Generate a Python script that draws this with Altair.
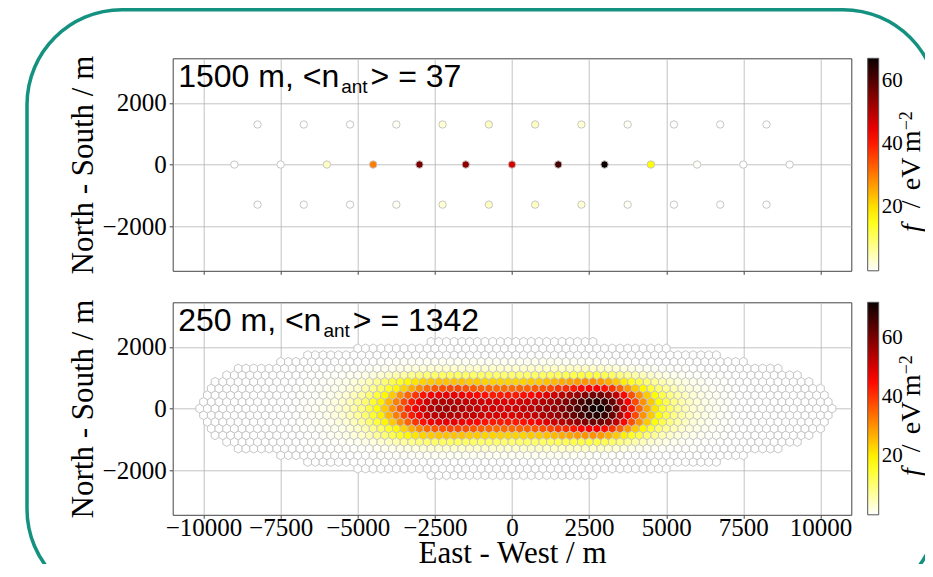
import altair as alt
import pandas as pd

# ---------------- data ----------------
# upper panel: 1500 m grid, 37 antennas
TOP_CENTER_X = [-9000, -7500, -6000, -4500, -3000, -1500, 0, 1500, 3000, 4500, 6000, 7500, 9000]
TOP_CENTER_F = [0.0, 0.0, 4.0, 30.0, 56.0, 54.0, 47.0, 61.0, 67.0, 17.0, 0.5, 0.0, 0.0]
TOP_SIDE_X = [-8250, -6750, -5250, -3750, -2250, -750, 750, 2250, 3750, 5250, 6750, 8250]
TOP_NORTH_F = [0.0, 0.0, 0.0, 0.8, 3.0, 4.0, 4.0, 3.0, 0.6, 0.0, 0.0, 0.0]
TOP_SOUTH_F = [0.0, 0.0, 0.0, 0.8, 3.0, 4.0, 4.0, 3.0, 0.6, 0.0, 0.0, 0.0]
TOP_SIDE_Y = 1299.0
TOP_FMAX = 67.0

# lower panel: 250 m hexagonal grid, rows |k| = 0..10 (row pitch 216.5 m)
HEX_PITCH = 250.0
HEX_ROW_DY = 216.5
ROW_XMIN = [-10125, -10000, -9875, -9750, -9625, -9250, -8875, -7500, -6625, -5000, -2625]
ROW_XMAX = [10375, 10250, 10125, 10000, 9625, 9250, 8625, 7500, 6625, 5000, 2625]
F_START = [-6875, -6750, -6875, -6750, -6875, -6750, -6875, -4750]
F_ROWS = [
    [0.3, 0.5, 0.8, 1.3, 2, 3, 4.5, 6.5, 9, 13, 18, 24, 30, 36, 42, 47, 51, 54, 56, 56, 55, 54, 53,
     52, 51, 51, 50, 50, 51, 52, 53, 54, 56, 57, 59, 62, 65, 68, 71, 72, 68, 61, 52, 43, 35, 28, 21,
     15, 11, 7.5, 5, 3.5, 2.5, 1.6, 1, 0.6, 0.3],
    [0.4, 0.6, 1, 1.6, 2.4, 3.6, 5.3, 7.5, 10.5, 15, 20, 26, 32, 38, 43, 47, 51, 53, 54, 54, 53, 52,
     52, 51, 50, 50, 49, 49, 50, 51, 52, 54, 55, 57, 59, 62, 65, 68, 69, 67, 62, 54, 46, 38, 30, 24,
     18, 13, 9, 6.5, 4.5, 3, 2, 1.3, 0.8, 0.4],
    [0.2, 0.3, 0.5, 0.9, 1.4, 2.2, 3.3, 5, 7, 10, 14, 19, 24, 30, 35, 40, 44, 47, 48, 48, 48, 47, 46,
     45, 44, 43, 43, 43, 43, 44, 45, 47, 49, 51, 53, 55, 57, 59, 61, 61, 58, 52, 45, 37, 30, 24, 18,
     13, 9, 6.5, 4.5, 3, 2, 1.3, 0.8, 0.5, 0.2],
    [0.2, 0.3, 0.5, 0.8, 1.2, 1.8, 2.7, 4, 5.5, 8, 11, 15, 19, 23, 27, 31, 34, 36, 37, 38, 38, 37,
     36, 35, 35, 34, 34, 34, 35, 35, 36, 37, 38, 40, 41, 43, 45, 46, 46, 44, 40, 35, 29, 24, 19, 14,
     10, 7.5, 5.5, 3.8, 2.6, 1.8, 1.2, 0.8, 0.5, 0.3],
    [0.1, 0.2, 0.3, 0.5, 0.8, 1.2, 1.8, 2.7, 3.8, 5.3, 7.5, 10, 13, 16, 19, 21, 23, 24, 25, 25, 25,
     25, 24, 24, 23, 23, 23, 23, 23, 23, 24, 24, 25, 26, 27, 28, 29, 30, 30, 29, 27, 24, 20, 16, 13,
     10, 7.5, 5.5, 4, 2.8, 2, 1.4, 1, 0.6, 0.4, 0.2, 0.1],
    [0.1, 0.1, 0.2, 0.3, 0.4, 0.6, 0.9, 1.3, 1.8, 2.5, 3.4, 4.5, 5.8, 7, 8.3, 9.3, 10.2, 10.8, 11.2,
     11.4, 11.4, 11.2, 11, 10.8, 10.6, 10.5, 10.4, 10.4, 10.5, 10.6, 10.8, 11.1, 11.5, 12, 12.5, 13,
     13.3, 13.4, 13.2, 12.5, 11.2, 9.5, 7.8, 6.2, 4.8, 3.6, 2.6, 1.9, 1.3, 0.9, 0.6, 0.4, 0.3, 0.2,
     0.1, 0.1],
    [0, 0, 0.05, 0.1, 0.1, 0.15, 0.2, 0.3, 0.4, 0.6, 0.8, 1.1, 1.4, 1.8, 2.2, 2.6, 2.9, 3.2, 3.4, 3.5,
     3.6, 3.6, 3.6, 3.6, 3.6, 3.6, 3.6, 3.6, 3.6, 3.6, 3.7, 3.8, 3.9, 4, 4.1, 4.2, 4.2, 4.2, 4.1, 3.9,
     3.5, 3, 2.4, 1.9, 1.4, 1, 0.7, 0.5, 0.35, 0.25, 0.15, 0.1, 0.05, 0, 0, 0, 0],
    [0.1, 0.15, 0.2, 0.3, 0.4, 0.5, 0.6, 0.7, 0.8, 0.85, 0.9, 0.9, 0.9, 0.9, 0.9, 0.9, 0.9, 0.9, 0.9,
     0.95, 1, 1, 1.05, 1.1, 1.1, 1.1, 1, 0.9, 0.75, 0.6, 0.45, 0.3, 0.2, 0.15, 0.1],
]
BOT_FMAX = 72.0

X_TICKS = [-10000, -7500, -5000, -2500, 0, 2500, 5000, 7500, 10000]
Y_TICKS = [-2000, 0, 2000]
CBAR_TICKS = [20, 40, 60]

# ---------------- tables ----------------
top_rows = []
for x, f in zip(TOP_CENTER_X, TOP_CENTER_F):
    top_rows.append({"x": x, "y": 0.0, "f": f})
for x, f in zip(TOP_SIDE_X, TOP_NORTH_F):
    top_rows.append({"x": x, "y": TOP_SIDE_Y, "f": f})
for x, f in zip(TOP_SIDE_X, TOP_SOUTH_F):
    top_rows.append({"x": x, "y": -TOP_SIDE_Y, "f": f})
top_df = pd.DataFrame(top_rows)

bot_rows = []
for k in range(-10, 11):
    a = abs(k)
    n = int(round((ROW_XMAX[a] - ROW_XMIN[a]) / HEX_PITCH)) + 1
    for j in range(n):
        x = ROW_XMIN[a] + j * HEX_PITCH
        f = 0.0
        if a < len(F_ROWS):
            idx = int(round((x - F_START[a]) / HEX_PITCH))
            if 0 <= idx < len(F_ROWS[a]):
                f = F_ROWS[a][idx]
        bot_rows.append({"x": x, "y": k * HEX_ROW_DY, "f": f})
bot_df = pd.DataFrame(bot_rows)

one = pd.DataFrame({"d": [0]})

# ---------------- style / layout ----------------
W, H = 678.6, 212.5
GAP = 31
ORIGIN_X, ORIGIN_Y = 172.7, 58.3          # page position of the upper plot area
SVG_W, SVG_H = 917, 556
RIGHT_EDGE = 8 + SVG_W                    # last visible page column
SERIF = "Liberation Serif"
SANS = "Liberation Sans"
TEAL = "#15917f"
HEX_PATH = "M0,-1L0.866,-0.5L0.866,0.5L0,1L-0.866,0.5L-0.866,-0.5Z"

LS = {"0": .556, "1": .556, "2": .556, "3": .556, "4": .556, "5": .556, "7": .556,
      " ": .278, "m": .833, ",": .278, "<": .584, ">": .584, "=": .584, "n": .556,
      "a": .556, "t": .278}


def tw(s, size):
    return sum(LS.get(c, 0.55) for c in s) * size


def hot_r_scale(vmax):
    return alt.Scale(domain=[0, 0.254 * vmax, 0.635 * vmax, vmax],
                     range=["#ffffff", "#ffff00", "#ff0000", "#0b0000"],
                     interpolate="rgb", clamp=True)


def box_path(L, T, R, B, r):
    k = 0.5523 * r
    p = [f"M{L + r},{T}", f"L{R - r},{T}",
         f"C{R - r + k},{T} {R},{T + r - k} {R},{T + r}",
         f"L{R},{B - r}",
         f"C{R},{B - r + k} {R - r + k},{B} {R - r},{B}",
         f"L{L + r},{B}",
         f"C{L + r - k},{B} {L},{B - r + k} {L},{B - r}",
         f"L{L},{T + r}",
         f"C{L},{T + r - k} {L + r - k},{T} {L + r},{T}", "Z"]
    return "".join(p)


def txt(s, x, y, font, size, angle=0, style="normal"):
    return alt.Chart(one).mark_text(text=s, font=font, fontSize=size, fontStyle=style,
                                    align="left", baseline="alphabetic", angle=angle,
                                    color="black").encode(x=alt.value(x), y=alt.value(y))


def panel(df, vmax, head, tail, shape, size, xlabels, extra=None):
    if xlabels:
        xaxis = alt.Axis(values=X_TICKS, grid=True, labels=True, format="d",
                         title="East - West / m", titleX=W / 2, titleY=48,
                         titleAlign="center", titleBaseline="alphabetic", labelPadding=-3)
    else:
        xaxis = alt.Axis(values=X_TICKS, grid=True, labels=False, title=None)
    yaxis = alt.Axis(values=Y_TICKS, grid=True, format="d", title="North - South / m",
                     titleX=-80.7, titleY=H / 2, titleAngle=270, titleAlign="center",
                     titleBaseline="alphabetic", labelPadding=3)
    pts = alt.Chart(df).mark_point(shape=shape, size=size, filled=True, stroke="#c6c6c6",
                                   strokeWidth=1, opacity=1).encode(
        x=alt.X("x:Q", scale=alt.Scale(domain=[-11000, 11000], nice=False, zero=False), axis=xaxis),
        y=alt.Y("y:Q", scale=alt.Scale(domain=[-3444, 3444], nice=False, zero=False), axis=yaxis),
        fill=alt.Fill("f:Q", scale=hot_r_scale(vmax), title=None,
                      legend=alt.Legend(type="gradient", direction="vertical", orient="right",
                                        gradientLength=H, gradientThickness=11, values=CBAR_TICKS,
                                        labelFont=SERIF, labelFontSize=21, labelColor="black",
                                        labelOffset=3, offset=16, gradientStrokeColor="#555",
                                        gradientStrokeWidth=1, labelOverlap=False, padding=0)),
        order=alt.Order("f:Q"),
    )
    x0, y0, fs, sub = 5.5, 28.5, 32, 19
    w1 = tw(head, fs) + 2
    w2 = tw("ant", sub) + 3
    layers = [pts,
              txt(head, x0, y0, SANS, fs),
              txt("ant", x0 + w1, y0 + 6.5, SANS, sub),
              txt(tail, x0 + w1 + w2, y0, SANS, fs)]
    # colour-bar title  f / eV m^-2  (rotated, reading upwards)
    bx = RIGHT_EDGE - ORIGIN_X - 5.5
    cfs = 28
    layers += [txt("f", bx, 173.7, SERIF, cfs, 270, "italic"),
               txt("/", bx, 150, SERIF, cfs, 270),
               txt("eV", bx, 132, SERIF, cfs, 270),
               txt("m", bx, 94, SERIF, cfs, 270),
               txt("\u22122", bx - 8, 72, SERIF, 18, 270)]
    if extra is not None:
        layers.append(extra)
    return alt.layer(*layers).properties(width=W, height=H)


frame = alt.Chart(one).mark_point(
    shape=box_path(27 - ORIGIN_X, 9.75 - ORIGIN_Y, 938 - ORIGIN_X, 604 - ORIGIN_Y, 95),
    size=4, filled=False, stroke=TEAL, strokeWidth=3.5, opacity=1
).encode(x=alt.value(0), y=alt.value(0))

top = panel(top_df, TOP_FMAX, "1500 m, <n", "> = 37", "circle", 55, False, frame)
bot = panel(bot_df, BOT_FMAX, "250 m, <n", "> = 1342", HEX_PATH, 80, True)

# autosize "none": the view is (W x 0) plus padding, clipped to SVG_W x SVG_H
pad_l = ORIGIN_X - 8
pad_t = ORIGIN_Y - 8
pad_r = SVG_W - pad_l - W
pad_b = SVG_H - pad_t
chart = alt.vconcat(top, bot, spacing=GAP, bounds="flush").resolve_scale(
    fill="independent"
).properties(
    autosize=alt.AutoSizeParams(type="none"),
    padding={"left": pad_l, "top": pad_t, "right": pad_r, "bottom": pad_b},
    background="white",
).configure_view(
    stroke="#444444", strokeWidth=1
).configure_axis(
    labelFont=SERIF, labelFontSize=25, labelColor="black",
    titleFont=SERIF, titleFontSize=31, titleFontWeight="normal", titleColor="black",
    gridColor="#b4b4b4", gridWidth=0.8, tickColor="#444444", tickSize=3.5, tickWidth=1,
    domain=False, zindex=1
)

chart.save("out.html", embed_options={"renderer": "svg", "actions": False})
